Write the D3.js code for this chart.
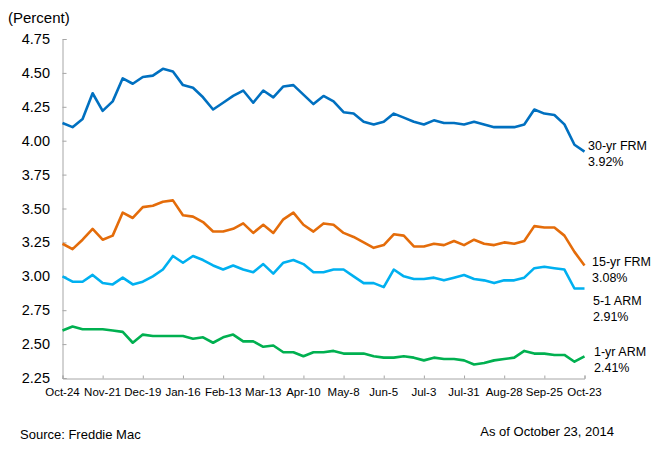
<!DOCTYPE html>
<html>
<head>
<meta charset="utf-8">
<script src="https://cdn.jsdelivr.net/npm/d3@7"></script>
<style>
  body { margin: 0; background: #fff; }
  svg { font-family: "Liberation Sans", Arial, sans-serif; }
</style>
</head>
<body>
<script>
// 週次データ (2013-10-24 〜 2014-10-23)
const weekLabels = ["Oct-24", "Nov-21", "Dec-19", "Jan-16", "Feb-13", "Mar-13", "Apr-10",
  "May-8", "Jun-5", "Jul-3", "Jul-31", "Aug-28", "Sep-25", "Oct-23"];
const yTicks = [2.25, 2.50, 2.75, 3.00, 3.25, 3.50, 3.75, 4.00, 4.25, 4.50, 4.75];

const frm30 = [4.13, 4.10, 4.16, 4.35, 4.22, 4.29, 4.46, 4.42, 4.47, 4.48, 4.53, 4.51, 4.41,
  4.39, 4.32, 4.23, 4.28, 4.33, 4.37, 4.28, 4.37, 4.32, 4.40, 4.41, 4.34, 4.27, 4.33,
  4.29, 4.21, 4.20, 4.14, 4.12, 4.14, 4.20, 4.17, 4.14, 4.12, 4.15, 4.13, 4.13, 4.12,
  4.14, 4.12, 4.10, 4.10, 4.10, 4.12, 4.23, 4.20, 4.19, 4.12, 3.97, 3.92];
const frm15 = [3.24, 3.20, 3.27, 3.35, 3.27, 3.30, 3.47, 3.43, 3.51, 3.52, 3.55, 3.56, 3.45,
  3.44, 3.40, 3.33, 3.33, 3.35, 3.39, 3.32, 3.38, 3.32, 3.42, 3.47, 3.38, 3.33, 3.39,
  3.38, 3.32, 3.29, 3.25, 3.21, 3.23, 3.31, 3.30, 3.22, 3.22, 3.24, 3.23, 3.26, 3.23,
  3.27, 3.24, 3.23, 3.25, 3.24, 3.26, 3.37, 3.36, 3.36, 3.30, 3.18, 3.08];
const arm51 = [3.00, 2.96, 2.96, 3.01, 2.95, 2.94, 2.99, 2.94, 2.96, 3.00, 3.05, 3.15, 3.10,
  3.15, 3.12, 3.08, 3.05, 3.08, 3.05, 3.03, 3.09, 3.02, 3.10, 3.12, 3.09, 3.03, 3.03,
  3.05, 3.05, 3.00, 2.95, 2.95, 2.92, 3.05, 3.00, 2.98, 2.98, 2.99, 2.97, 2.99, 3.01,
  2.98, 2.97, 2.95, 2.97, 2.97, 2.99, 3.06, 3.07, 3.06, 3.05, 2.91, 2.91];
const arm1 = [2.60, 2.63, 2.61, 2.61, 2.61, 2.60, 2.59, 2.51, 2.57, 2.56, 2.56, 2.56, 2.56,
  2.54, 2.55, 2.51, 2.55, 2.57, 2.52, 2.52, 2.48, 2.49, 2.44, 2.44, 2.41, 2.44, 2.44,
  2.45, 2.43, 2.43, 2.43, 2.41, 2.40, 2.40, 2.41, 2.40, 2.38, 2.40, 2.39, 2.39, 2.38,
  2.35, 2.36, 2.38, 2.39, 2.40, 2.45, 2.43, 2.43, 2.42, 2.42, 2.37, 2.41];

const seriesNames = ["30-yr FRM", "15-yr FRM", "5-1 ARM", "1-yr ARM"];
const seriesColors = ["#0070C0", "#E46C0A", "#00B0F0", "#00B050"];
const seriesData = [frm30, frm15, arm51, arm1];

// SVG作成
const width = 655, height = 450;
const svg = d3.select("body").append("svg")
  .attr("width", width)
  .attr("height", height);

const x = d3.scaleLinear().domain([0, frm30.length - 1]).range([62.5, 584.5]);
const y = d3.scaleLinear().domain([2.25, 4.75]).range([378, 39]);

// Y軸
const yAxis = svg.append("g")
  .attr("transform", "translate(62.5,0)")
  .call(d3.axisRight(y).tickValues(yTicks).tickSize(4).tickFormat(""));
yAxis.select(".domain").attr("stroke", "#a6a6a6");
yAxis.selectAll(".tick line").attr("stroke", "#a6a6a6");

svg.append("g").selectAll("text")
  .data(yTicks)
  .join("text")
  .attr("x", 50)
  .attr("y", d => y(d) + 5)
  .attr("text-anchor", "end")
  .attr("font-size", "14.5px")
  .attr("fill", "#000")
  .text(d => d.toFixed(2));

// X軸 (4週ごと)
const tickIdx = weekLabels.map((d, i) => i * 4);
const xAxis = svg.append("g")
  .attr("transform", "translate(0,378.5)")
  .call(d3.axisTop(x).tickValues(tickIdx).tickSize(3).tickFormat(""));
xAxis.select(".domain").attr("stroke", "#a6a6a6");
xAxis.selectAll(".tick line").attr("stroke", "#a6a6a6");

svg.append("g").selectAll("text")
  .data(weekLabels)
  .join("text")
  .attr("x", (d, i) => x(i * 4))
  .attr("y", 396)
  .attr("text-anchor", "middle")
  .attr("font-size", "11.5px")
  .attr("fill", "#000")
  .text(d => d);

// 折れ線
const line = d3.line().x((d, i) => x(i)).y(d => y(d));
seriesData.forEach((s, k) => {
  svg.append("path")
    .datum(s)
    .attr("d", line)
    .attr("fill", "none")
    .attr("stroke", seriesColors[k])
    .attr("stroke-width", 2.6)
    .attr("stroke-linejoin", "round");
});

// 系列ラベル
const labelPos = [[588, 150], [592, 266], [593, 305], [594, 356]];
seriesData.forEach((s, k) => {
  const t = svg.append("text")
    .attr("font-size", "12.5px")
    .attr("fill", "#000");
  t.append("tspan").attr("x", labelPos[k][0]).attr("y", labelPos[k][1]).text(seriesNames[k]);
  t.append("tspan").attr("x", labelPos[k][0]).attr("y", labelPos[k][1] + 16)
    .text(s[s.length - 1].toFixed(2) + "%");
});

// 注記
svg.append("text")
  .attr("x", 8).attr("y", 23)
  .attr("font-size", "15px")
  .text("(Percent)");

svg.append("text")
  .attr("x", 20).attr("y", 439)
  .attr("font-size", "13px")
  .text("Source: Freddie Mac");

svg.append("text")
  .attr("x", 614).attr("y", 435.5)
  .attr("text-anchor", "end")
  .attr("font-size", "13px")
  .text("As of October 23, 2014");
</script>
</body>
</html>
